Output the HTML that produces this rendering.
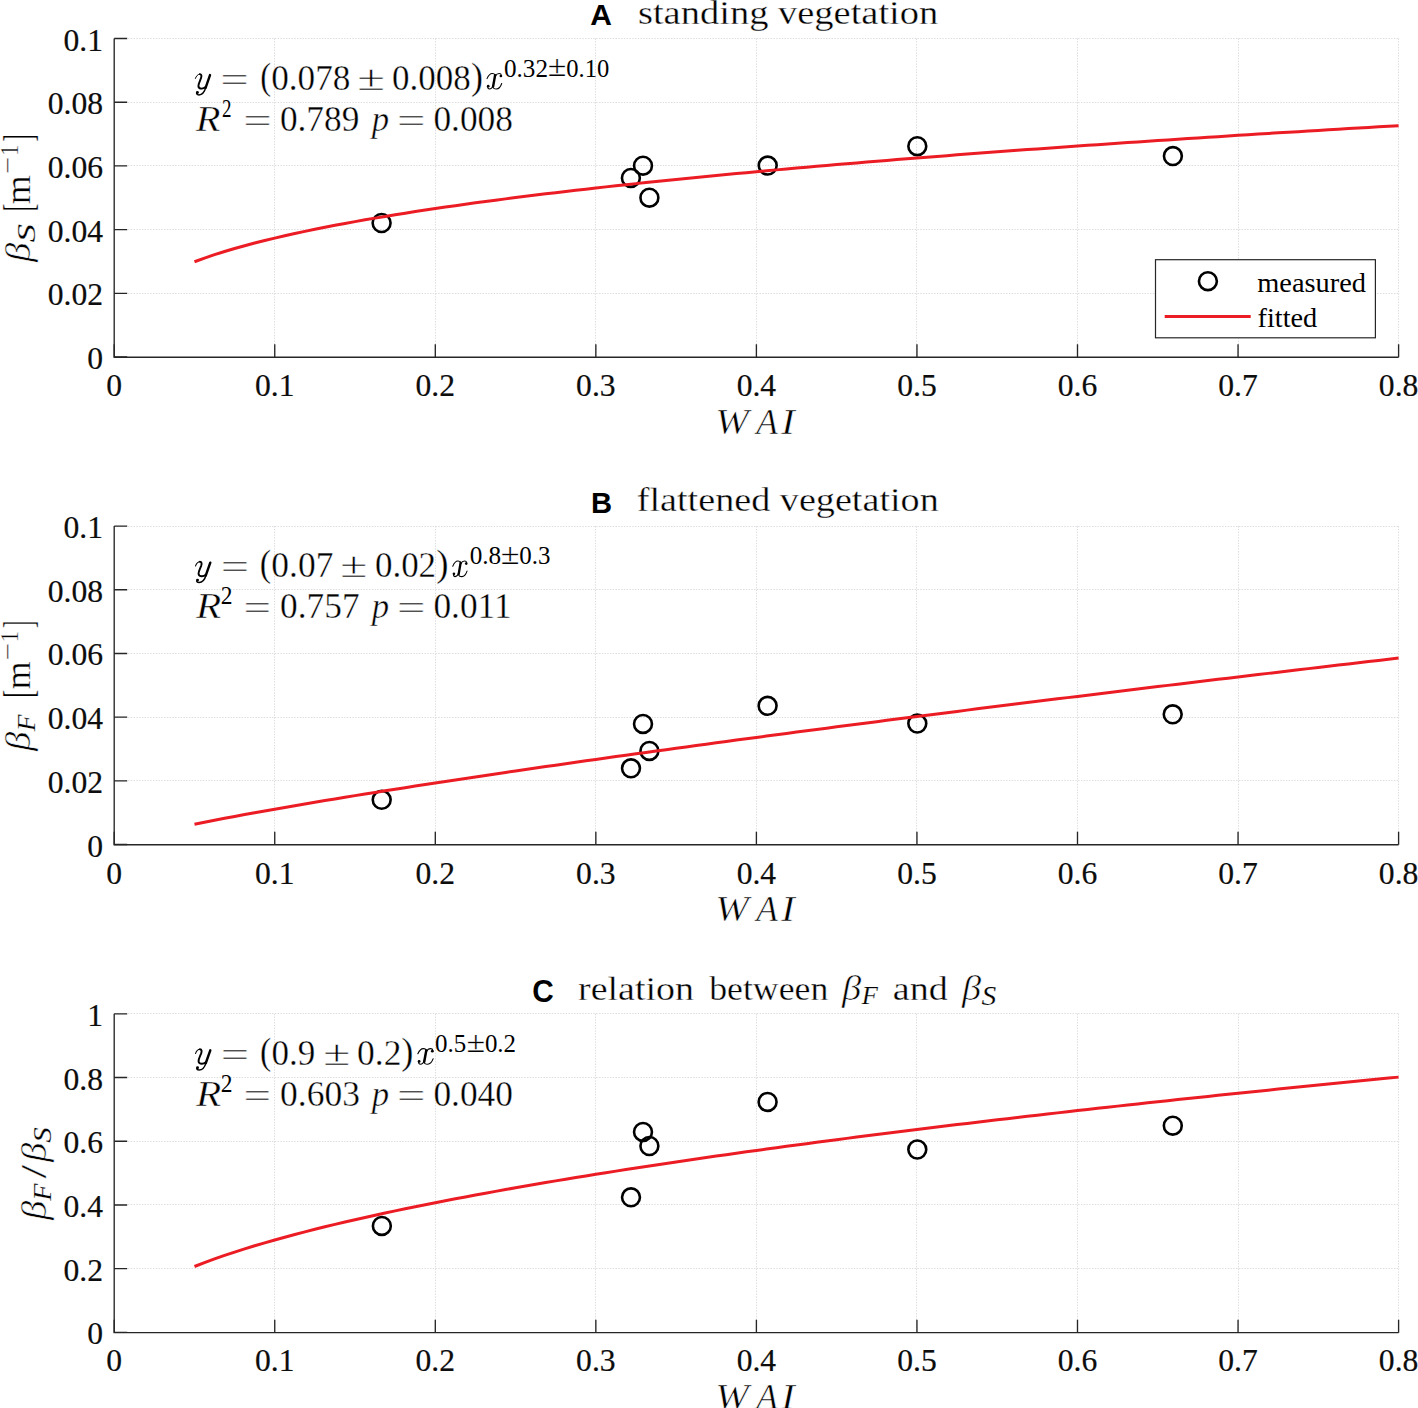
<!DOCTYPE html>
<html><head><meta charset="utf-8"><style>
html,body{margin:0;padding:0;background:#fff;overflow:hidden;}
svg{display:block;}
.m{stroke:#fff;stroke-width:0.45px;}
.w{stroke:#fff;stroke-width:0.55px;}
.s{stroke:#fff;stroke-width:0.2px;}
.c{stroke:#fff;stroke-width:0.35px;}
.t{stroke:#0d0d0d;stroke-width:0.2px;}
</style></head><body>
<svg width="1418" height="1408" viewBox="0 0 1418 1408">
<rect width="1418" height="1408" fill="#fff"/>
<path d="M274.5 38.5V357 M435.5 38.5V357 M595.5 38.5V357 M756.5 38.5V357 M916.5 38.5V357 M1077.5 38.5V357 M1238.5 38.5V357 M1398.5 38.5V357 M114.2 293.5H1398.6 M114.2 229.5H1398.6 M114.2 165.5H1398.6 M114.2 102.5H1398.6 M114.2 38.5H1398.6" stroke="#dcdde0" stroke-width="1" stroke-dasharray="1.4 1.37" fill="none"/>
<path d="M114.2 38.5V357.25H1398.6" stroke="#262626" stroke-width="1.35" fill="none"/>
<path d="M114.2 357.25v-13 M274.75 357.25v-13 M435.3 357.25v-13 M595.85 357.25v-13 M756.4 357.25v-13 M916.95 357.25v-13 M1077.5 357.25v-13 M1238.05 357.25v-13 M1398.6 357.25v-13 M114.2 357h13 M114.2 293.3h13 M114.2 229.6h13 M114.2 165.9h13 M114.2 102.2h13 M114.2 38.5h13" stroke="#262626" stroke-width="1.35" fill="none"/>
<text class="t" x="114.2" y="396" font-size="31.6" text-anchor="middle" font-family='"Liberation Serif", serif' fill="#0d0d0d">0</text>
<text class="t" x="274.75" y="396" font-size="31.6" text-anchor="middle" font-family='"Liberation Serif", serif' fill="#0d0d0d">0.1</text>
<text class="t" x="435.3" y="396" font-size="31.6" text-anchor="middle" font-family='"Liberation Serif", serif' fill="#0d0d0d">0.2</text>
<text class="t" x="595.85" y="396" font-size="31.6" text-anchor="middle" font-family='"Liberation Serif", serif' fill="#0d0d0d">0.3</text>
<text class="t" x="756.4" y="396" font-size="31.6" text-anchor="middle" font-family='"Liberation Serif", serif' fill="#0d0d0d">0.4</text>
<text class="t" x="916.95" y="396" font-size="31.6" text-anchor="middle" font-family='"Liberation Serif", serif' fill="#0d0d0d">0.5</text>
<text class="t" x="1077.5" y="396" font-size="31.6" text-anchor="middle" font-family='"Liberation Serif", serif' fill="#0d0d0d">0.6</text>
<text class="t" x="1238.05" y="396" font-size="31.6" text-anchor="middle" font-family='"Liberation Serif", serif' fill="#0d0d0d">0.7</text>
<text class="t" x="1398.6" y="396" font-size="31.6" text-anchor="middle" font-family='"Liberation Serif", serif' fill="#0d0d0d">0.8</text>
<text class="t" x="103" y="369" font-size="31.6" text-anchor="end" font-family='"Liberation Serif", serif' fill="#0d0d0d">0</text>
<text class="t" x="103" y="305.3" font-size="31.6" text-anchor="end" font-family='"Liberation Serif", serif' fill="#0d0d0d">0.02</text>
<text class="t" x="103" y="241.6" font-size="31.6" text-anchor="end" font-family='"Liberation Serif", serif' fill="#0d0d0d">0.04</text>
<text class="t" x="103" y="177.9" font-size="31.6" text-anchor="end" font-family='"Liberation Serif", serif' fill="#0d0d0d">0.06</text>
<text class="t" x="103" y="114.2" font-size="31.6" text-anchor="end" font-family='"Liberation Serif", serif' fill="#0d0d0d">0.08</text>
<text class="t" x="103" y="50.5" font-size="31.6" text-anchor="end" font-family='"Liberation Serif", serif' fill="#0d0d0d">0.1</text>
<path d="M274.5 526.1V844.5 M435.5 526.1V844.5 M595.5 526.1V844.5 M756.5 526.1V844.5 M916.5 526.1V844.5 M1077.5 526.1V844.5 M1238.5 526.1V844.5 M1398.5 526.1V844.5 M114.2 780.5H1398.6 M114.2 717.5H1398.6 M114.2 653.5H1398.6 M114.2 589.5H1398.6 M114.2 526.5H1398.6" stroke="#dcdde0" stroke-width="1" stroke-dasharray="1.4 1.37" fill="none"/>
<path d="M114.2 526.1V844.75H1398.6" stroke="#262626" stroke-width="1.35" fill="none"/>
<path d="M114.2 844.75v-13 M274.75 844.75v-13 M435.3 844.75v-13 M595.85 844.75v-13 M756.4 844.75v-13 M916.95 844.75v-13 M1077.5 844.75v-13 M1238.05 844.75v-13 M1398.6 844.75v-13 M114.2 844.5h13 M114.2 780.82h13 M114.2 717.14h13 M114.2 653.46h13 M114.2 589.78h13 M114.2 526.1h13" stroke="#262626" stroke-width="1.35" fill="none"/>
<text class="t" x="114.2" y="883.5" font-size="31.6" text-anchor="middle" font-family='"Liberation Serif", serif' fill="#0d0d0d">0</text>
<text class="t" x="274.75" y="883.5" font-size="31.6" text-anchor="middle" font-family='"Liberation Serif", serif' fill="#0d0d0d">0.1</text>
<text class="t" x="435.3" y="883.5" font-size="31.6" text-anchor="middle" font-family='"Liberation Serif", serif' fill="#0d0d0d">0.2</text>
<text class="t" x="595.85" y="883.5" font-size="31.6" text-anchor="middle" font-family='"Liberation Serif", serif' fill="#0d0d0d">0.3</text>
<text class="t" x="756.4" y="883.5" font-size="31.6" text-anchor="middle" font-family='"Liberation Serif", serif' fill="#0d0d0d">0.4</text>
<text class="t" x="916.95" y="883.5" font-size="31.6" text-anchor="middle" font-family='"Liberation Serif", serif' fill="#0d0d0d">0.5</text>
<text class="t" x="1077.5" y="883.5" font-size="31.6" text-anchor="middle" font-family='"Liberation Serif", serif' fill="#0d0d0d">0.6</text>
<text class="t" x="1238.05" y="883.5" font-size="31.6" text-anchor="middle" font-family='"Liberation Serif", serif' fill="#0d0d0d">0.7</text>
<text class="t" x="1398.6" y="883.5" font-size="31.6" text-anchor="middle" font-family='"Liberation Serif", serif' fill="#0d0d0d">0.8</text>
<text class="t" x="103" y="856.5" font-size="31.6" text-anchor="end" font-family='"Liberation Serif", serif' fill="#0d0d0d">0</text>
<text class="t" x="103" y="792.82" font-size="31.6" text-anchor="end" font-family='"Liberation Serif", serif' fill="#0d0d0d">0.02</text>
<text class="t" x="103" y="729.14" font-size="31.6" text-anchor="end" font-family='"Liberation Serif", serif' fill="#0d0d0d">0.04</text>
<text class="t" x="103" y="665.46" font-size="31.6" text-anchor="end" font-family='"Liberation Serif", serif' fill="#0d0d0d">0.06</text>
<text class="t" x="103" y="601.78" font-size="31.6" text-anchor="end" font-family='"Liberation Serif", serif' fill="#0d0d0d">0.08</text>
<text class="t" x="103" y="538.1" font-size="31.6" text-anchor="end" font-family='"Liberation Serif", serif' fill="#0d0d0d">0.1</text>
<path d="M274.5 1013.8V1332.4 M435.5 1013.8V1332.4 M595.5 1013.8V1332.4 M756.5 1013.8V1332.4 M916.5 1013.8V1332.4 M1077.5 1013.8V1332.4 M1238.5 1013.8V1332.4 M1398.5 1013.8V1332.4 M114.2 1268.5H1398.6 M114.2 1204.5H1398.6 M114.2 1141.5H1398.6 M114.2 1077.5H1398.6 M114.2 1013.5H1398.6" stroke="#dcdde0" stroke-width="1" stroke-dasharray="1.4 1.37" fill="none"/>
<path d="M114.2 1013.8V1332.65H1398.6" stroke="#262626" stroke-width="1.35" fill="none"/>
<path d="M114.2 1332.65v-13 M274.75 1332.65v-13 M435.3 1332.65v-13 M595.85 1332.65v-13 M756.4 1332.65v-13 M916.95 1332.65v-13 M1077.5 1332.65v-13 M1238.05 1332.65v-13 M1398.6 1332.65v-13 M114.2 1332.4h13 M114.2 1268.68h13 M114.2 1204.96h13 M114.2 1141.24h13 M114.2 1077.52h13 M114.2 1013.8h13" stroke="#262626" stroke-width="1.35" fill="none"/>
<text class="t" x="114.2" y="1371.4" font-size="31.6" text-anchor="middle" font-family='"Liberation Serif", serif' fill="#0d0d0d">0</text>
<text class="t" x="274.75" y="1371.4" font-size="31.6" text-anchor="middle" font-family='"Liberation Serif", serif' fill="#0d0d0d">0.1</text>
<text class="t" x="435.3" y="1371.4" font-size="31.6" text-anchor="middle" font-family='"Liberation Serif", serif' fill="#0d0d0d">0.2</text>
<text class="t" x="595.85" y="1371.4" font-size="31.6" text-anchor="middle" font-family='"Liberation Serif", serif' fill="#0d0d0d">0.3</text>
<text class="t" x="756.4" y="1371.4" font-size="31.6" text-anchor="middle" font-family='"Liberation Serif", serif' fill="#0d0d0d">0.4</text>
<text class="t" x="916.95" y="1371.4" font-size="31.6" text-anchor="middle" font-family='"Liberation Serif", serif' fill="#0d0d0d">0.5</text>
<text class="t" x="1077.5" y="1371.4" font-size="31.6" text-anchor="middle" font-family='"Liberation Serif", serif' fill="#0d0d0d">0.6</text>
<text class="t" x="1238.05" y="1371.4" font-size="31.6" text-anchor="middle" font-family='"Liberation Serif", serif' fill="#0d0d0d">0.7</text>
<text class="t" x="1398.6" y="1371.4" font-size="31.6" text-anchor="middle" font-family='"Liberation Serif", serif' fill="#0d0d0d">0.8</text>
<text class="t" x="103" y="1344.4" font-size="31.6" text-anchor="end" font-family='"Liberation Serif", serif' fill="#0d0d0d">0</text>
<text class="t" x="103" y="1280.68" font-size="31.6" text-anchor="end" font-family='"Liberation Serif", serif' fill="#0d0d0d">0.2</text>
<text class="t" x="103" y="1216.96" font-size="31.6" text-anchor="end" font-family='"Liberation Serif", serif' fill="#0d0d0d">0.4</text>
<text class="t" x="103" y="1153.24" font-size="31.6" text-anchor="end" font-family='"Liberation Serif", serif' fill="#0d0d0d">0.6</text>
<text class="t" x="103" y="1089.52" font-size="31.6" text-anchor="end" font-family='"Liberation Serif", serif' fill="#0d0d0d">0.8</text>
<text class="t" x="103" y="1025.8" font-size="31.6" text-anchor="end" font-family='"Liberation Serif", serif' fill="#0d0d0d">1</text>
<circle cx="381.6" cy="223" r="8.95" stroke="#000" stroke-width="2.6" fill="none"/>
<circle cx="630.9" cy="177.9" r="8.95" stroke="#000" stroke-width="2.6" fill="none"/>
<circle cx="643" cy="165.7" r="8.95" stroke="#000" stroke-width="2.6" fill="none"/>
<circle cx="649.4" cy="197.7" r="8.95" stroke="#000" stroke-width="2.6" fill="none"/>
<circle cx="767.7" cy="165.6" r="8.95" stroke="#000" stroke-width="2.6" fill="none"/>
<circle cx="917.3" cy="146.2" r="8.95" stroke="#000" stroke-width="2.6" fill="none"/>
<circle cx="1172.9" cy="156.1" r="8.95" stroke="#000" stroke-width="2.6" fill="none"/>
<polyline points="194.47,261.75 204.51,258.09 214.54,254.7 224.58,251.53 234.61,248.55 244.65,245.74 254.68,243.07 264.72,240.52 274.75,238.09 284.78,235.76 294.82,233.53 304.85,231.37 314.89,229.29 324.92,227.28 334.96,225.34 344.99,223.45 355.02,221.62 365.06,219.84 375.09,218.11 385.13,216.42 395.16,214.77 405.2,213.17 415.23,211.6 425.27,210.07 435.3,208.57 445.33,207.1 455.37,205.66 465.4,204.25 475.44,202.86 485.47,201.51 495.51,200.17 505.54,198.87 515.57,197.58 525.61,196.31 535.64,195.07 545.68,193.85 555.71,192.64 565.75,191.46 575.78,190.29 585.82,189.14 595.85,188 605.88,186.88 615.92,185.78 625.95,184.69 635.99,183.62 646.02,182.56 656.06,181.51 666.09,180.48 676.12,179.46 686.16,178.45 696.19,177.45 706.23,176.47 716.26,175.49 726.3,174.53 736.33,173.58 746.37,172.64 756.4,171.71 766.43,170.78 776.47,169.87 786.5,168.97 796.54,168.08 806.57,167.19 816.61,166.31 826.64,165.45 836.67,164.59 846.71,163.74 856.74,162.89 866.78,162.06 876.81,161.23 886.85,160.41 896.88,159.6 906.92,158.79 916.95,157.99 926.98,157.2 937.02,156.41 947.05,155.63 957.09,154.86 967.12,154.09 977.16,153.33 987.19,152.58 997.23,151.83 1007.26,151.08 1017.29,150.35 1027.33,149.61 1037.36,148.89 1047.4,148.17 1057.43,147.45 1067.47,146.74 1077.5,146.03 1087.53,145.33 1097.57,144.64 1107.6,143.95 1117.64,143.26 1127.67,142.58 1137.71,141.9 1147.74,141.23 1157.77,140.56 1167.81,139.9 1177.84,139.24 1187.88,138.58 1197.91,137.93 1207.95,137.28 1217.98,136.64 1228.02,136 1238.05,135.37 1248.08,134.74 1258.12,134.11 1268.15,133.48 1278.19,132.86 1288.22,132.25 1298.26,131.63 1308.29,131.02 1318.32,130.42 1328.36,129.82 1338.39,129.22 1348.43,128.62 1358.46,128.03 1368.5,127.44 1378.53,126.85 1388.57,126.27 1398.6,125.69" stroke="#EC1C24" stroke-width="3" fill="none" stroke-linejoin="round"/>
<circle cx="381.7" cy="799.8" r="8.95" stroke="#000" stroke-width="2.6" fill="none"/>
<circle cx="631" cy="768.3" r="8.95" stroke="#000" stroke-width="2.6" fill="none"/>
<circle cx="643" cy="723.9" r="8.95" stroke="#000" stroke-width="2.6" fill="none"/>
<circle cx="649.4" cy="750.9" r="8.95" stroke="#000" stroke-width="2.6" fill="none"/>
<circle cx="767.6" cy="705.8" r="8.95" stroke="#000" stroke-width="2.6" fill="none"/>
<circle cx="917.3" cy="723.6" r="8.95" stroke="#000" stroke-width="2.6" fill="none"/>
<circle cx="1172.7" cy="714.3" r="8.95" stroke="#000" stroke-width="2.6" fill="none"/>
<polyline points="194.47,824.21 204.51,822.21 214.54,820.25 224.58,818.32 234.61,816.44 244.65,814.58 254.68,812.75 264.72,810.95 274.75,809.18 284.78,807.42 294.82,805.69 304.85,803.97 314.89,802.27 324.92,800.59 334.96,798.93 344.99,797.28 355.02,795.64 365.06,794.02 375.09,792.41 385.13,790.81 395.16,789.23 405.2,787.65 415.23,786.09 425.27,784.54 435.3,783 445.33,781.46 455.37,779.94 465.4,778.43 475.44,776.92 485.47,775.42 495.51,773.93 505.54,772.45 515.57,770.98 525.61,769.51 535.64,768.05 545.68,766.6 555.71,765.15 565.75,763.71 575.78,762.28 585.82,760.85 595.85,759.43 605.88,758.02 615.92,756.61 625.95,755.2 635.99,753.81 646.02,752.41 656.06,751.03 666.09,749.64 676.12,748.27 686.16,746.89 696.19,745.53 706.23,744.16 716.26,742.81 726.3,741.45 736.33,740.1 746.37,738.76 756.4,737.42 766.43,736.08 776.47,734.75 786.5,733.42 796.54,732.1 806.57,730.78 816.61,729.46 826.64,728.15 836.67,726.84 846.71,725.53 856.74,724.23 866.78,722.93 876.81,721.64 886.85,720.34 896.88,719.06 906.92,717.77 916.95,716.49 926.98,715.21 937.02,713.94 947.05,712.66 957.09,711.39 967.12,710.13 977.16,708.86 987.19,707.6 997.23,706.35 1007.26,705.09 1017.29,703.84 1027.33,702.59 1037.36,701.35 1047.4,700.1 1057.43,698.86 1067.47,697.62 1077.5,696.39 1087.53,695.15 1097.57,693.92 1107.6,692.7 1117.64,691.47 1127.67,690.25 1137.71,689.03 1147.74,687.81 1157.77,686.59 1167.81,685.38 1177.84,684.17 1187.88,682.96 1197.91,681.75 1207.95,680.55 1217.98,679.35 1228.02,678.15 1238.05,676.95 1248.08,675.75 1258.12,674.56 1268.15,673.37 1278.19,672.18 1288.22,670.99 1298.26,669.8 1308.29,668.62 1318.32,667.44 1328.36,666.26 1338.39,665.08 1348.43,663.91 1358.46,662.73 1368.5,661.56 1378.53,660.39 1388.57,659.22 1398.6,658.06" stroke="#EC1C24" stroke-width="3" fill="none" stroke-linejoin="round"/>
<circle cx="381.85" cy="1225.9" r="8.95" stroke="#000" stroke-width="2.6" fill="none"/>
<circle cx="631" cy="1197.3" r="8.95" stroke="#000" stroke-width="2.6" fill="none"/>
<circle cx="643" cy="1131.9" r="8.95" stroke="#000" stroke-width="2.6" fill="none"/>
<circle cx="649.4" cy="1146" r="8.95" stroke="#000" stroke-width="2.6" fill="none"/>
<circle cx="767.6" cy="1101.9" r="8.95" stroke="#000" stroke-width="2.6" fill="none"/>
<circle cx="917.3" cy="1149.5" r="8.95" stroke="#000" stroke-width="2.6" fill="none"/>
<circle cx="1172.8" cy="1125.7" r="8.95" stroke="#000" stroke-width="2.6" fill="none"/>
<polyline points="194.47,1266.51 204.51,1262.61 214.54,1258.93 224.58,1255.43 234.61,1252.08 244.65,1248.88 254.68,1245.8 264.72,1242.83 274.75,1239.96 284.78,1237.19 294.82,1234.49 304.85,1231.87 314.89,1229.32 324.92,1226.83 334.96,1224.41 344.99,1222.03 355.02,1219.72 365.06,1217.45 375.09,1215.22 385.13,1213.04 395.16,1210.9 405.2,1208.8 415.23,1206.74 425.27,1204.71 435.3,1202.71 445.33,1200.75 455.37,1198.82 465.4,1196.91 475.44,1195.03 485.47,1193.18 495.51,1191.36 505.54,1189.56 515.57,1187.78 525.61,1186.02 535.64,1184.29 545.68,1182.58 555.71,1180.89 565.75,1179.21 575.78,1177.56 585.82,1175.92 595.85,1174.31 605.88,1172.71 615.92,1171.12 625.95,1169.55 635.99,1168 646.02,1166.47 656.06,1164.94 666.09,1163.44 676.12,1161.94 686.16,1160.46 696.19,1158.99 706.23,1157.54 716.26,1156.1 726.3,1154.67 736.33,1153.25 746.37,1151.85 756.4,1150.45 766.43,1149.07 776.47,1147.7 786.5,1146.33 796.54,1144.98 806.57,1143.64 816.61,1142.31 826.64,1140.99 836.67,1139.68 846.71,1138.37 856.74,1137.08 866.78,1135.79 876.81,1134.52 886.85,1133.25 896.88,1131.99 906.92,1130.74 916.95,1129.5 926.98,1128.26 937.02,1127.04 947.05,1125.82 957.09,1124.6 967.12,1123.4 977.16,1122.2 987.19,1121.01 997.23,1119.83 1007.26,1118.65 1017.29,1117.48 1027.33,1116.32 1037.36,1115.16 1047.4,1114.01 1057.43,1112.87 1067.47,1111.73 1077.5,1110.6 1087.53,1109.47 1097.57,1108.35 1107.6,1107.24 1117.64,1106.13 1127.67,1105.03 1137.71,1103.93 1147.74,1102.84 1157.77,1101.75 1167.81,1100.67 1177.84,1099.6 1187.88,1098.53 1197.91,1097.46 1207.95,1096.4 1217.98,1095.35 1228.02,1094.3 1238.05,1093.25 1248.08,1092.21 1258.12,1091.17 1268.15,1090.14 1278.19,1089.11 1288.22,1088.09 1298.26,1087.07 1308.29,1086.06 1318.32,1085.05 1328.36,1084.05 1338.39,1083.05 1348.43,1082.05 1358.46,1081.06 1368.5,1080.07 1378.53,1079.09 1388.57,1078.11 1398.6,1077.13" stroke="#EC1C24" stroke-width="3" fill="none" stroke-linejoin="round"/>
<rect x="1155.5" y="259.7" width="219.9" height="78.1" fill="#fff" stroke="#262626" stroke-width="1.2"/>
<circle cx="1207.9" cy="281.2" r="8.95" stroke="#000" stroke-width="2.6" fill="none"/>
<path d="M1164.7 316.4H1250.7" stroke="#EC1C24" stroke-width="3"/>
<text x="1257.23" y="292.1" font-size="28.3" textLength="108.79" lengthAdjust="spacingAndGlyphs" font-family='"Liberation Serif", serif' fill="#000">measured</text>
<text x="1257.55" y="327.3" font-size="28.3" textLength="59.64" lengthAdjust="spacingAndGlyphs" font-family='"Liberation Serif", serif' fill="#000">fitted</text>
<text x="590.15" y="24.5" font-size="30.2" textLength="21.67" lengthAdjust="spacingAndGlyphs" font-family='"Liberation Sans", sans-serif' font-weight="bold" fill="#000">A</text>
<text x="591.1" y="512.8" font-size="29.8" textLength="21.07" lengthAdjust="spacingAndGlyphs" font-family='"Liberation Sans", sans-serif' font-weight="bold" fill="#000">B</text>
<text x="532.31" y="1002" font-size="30.5" textLength="21.5" lengthAdjust="spacingAndGlyphs" font-family='"Liberation Sans", sans-serif' font-weight="bold" fill="#000">C</text>
<text class="c" x="637.96" y="23.8" font-size="34.6" textLength="300.36" lengthAdjust="spacingAndGlyphs" font-family='"Liberation Serif", serif' fill="#000">standing vegetation</text>
<text class="c" x="636.75" y="510.9" font-size="34.6" textLength="302.04" lengthAdjust="spacingAndGlyphs" font-family='"Liberation Serif", serif' fill="#000">flattened vegetation</text>
<text class="c" x="578.14" y="999.9" font-size="34.6" textLength="115.79" lengthAdjust="spacingAndGlyphs" font-family='"Liberation Serif", serif' fill="#000">relation</text>
<text class="c" x="709.2" y="999.9" font-size="34.6" textLength="119.09" lengthAdjust="spacingAndGlyphs" font-family='"Liberation Serif", serif' fill="#000">between</text>
<text class="w" x="841.98" y="999.9" font-size="35" textLength="19.24" lengthAdjust="spacingAndGlyphs" font-family='"Liberation Serif", serif' font-style="italic" fill="#000">β</text>
<text class="s" x="861.83" y="1004.3" font-size="25.2" textLength="16.13" lengthAdjust="spacingAndGlyphs" font-family='"Liberation Serif", serif' font-style="italic" fill="#000">F</text>
<text class="c" x="892.77" y="999.9" font-size="34.6" textLength="54.97" lengthAdjust="spacingAndGlyphs" font-family='"Liberation Serif", serif' fill="#000">and</text>
<text class="w" x="961.98" y="999.9" font-size="35" textLength="19.14" lengthAdjust="spacingAndGlyphs" font-family='"Liberation Serif", serif' font-style="italic" fill="#000">β</text>
<text class="s" x="981.41" y="1004.8" font-size="26.5" textLength="14.74" lengthAdjust="spacingAndGlyphs" font-family='"Liberation Serif", serif' font-style="italic" fill="#000">S</text>
<text class="w" x="715.18" y="433.6" font-size="35.4" textLength="33.52" lengthAdjust="spacingAndGlyphs" font-family='"Liberation Serif", serif' font-style="italic" fill="#000">W</text>
<text class="w" x="756.15" y="433.6" font-size="35.4" textLength="21.61" lengthAdjust="spacingAndGlyphs" font-family='"Liberation Serif", serif' font-style="italic" fill="#000">A</text>
<text class="w" x="781.01" y="433.6" font-size="35.4" textLength="13.94" lengthAdjust="spacingAndGlyphs" font-family='"Liberation Serif", serif' font-style="italic" fill="#000">I</text>
<text class="w" x="715.18" y="921.2" font-size="35.4" textLength="33.52" lengthAdjust="spacingAndGlyphs" font-family='"Liberation Serif", serif' font-style="italic" fill="#000">W</text>
<text class="w" x="756.15" y="921.2" font-size="35.4" textLength="21.61" lengthAdjust="spacingAndGlyphs" font-family='"Liberation Serif", serif' font-style="italic" fill="#000">A</text>
<text class="w" x="781.01" y="921.2" font-size="35.4" textLength="13.94" lengthAdjust="spacingAndGlyphs" font-family='"Liberation Serif", serif' font-style="italic" fill="#000">I</text>
<text class="w" x="715.18" y="1408.8" font-size="35.4" textLength="33.52" lengthAdjust="spacingAndGlyphs" font-family='"Liberation Serif", serif' font-style="italic" fill="#000">W</text>
<text class="w" x="756.15" y="1408.8" font-size="35.4" textLength="21.61" lengthAdjust="spacingAndGlyphs" font-family='"Liberation Serif", serif' font-style="italic" fill="#000">A</text>
<text class="w" x="781.01" y="1408.8" font-size="35.4" textLength="13.94" lengthAdjust="spacingAndGlyphs" font-family='"Liberation Serif", serif' font-style="italic" fill="#000">I</text>
<g transform="translate(194.9 89.6) scale(1.000 1)" fill="none" stroke="#000" stroke-linecap="round"><path d="M0.5 -11.2C1.3 -13.5 3.0 -15.5 4.9 -15.5" stroke-width="1.0"/><path d="M4.9 -15.5C6.6 -15.5 6.9 -13.7 6.1 -11.4C4.8 -8.1 3.4 -5.6 3.5 -3.5C3.6 -1.8 5.0 -1.0 6.8 -1.0C8.3 -1.0 9.6 -1.6 10.4 -2.4" stroke-width="1.9"/><path d="M15.1 -14.5L10.7 -1.8" stroke-width="2.4"/><path d="M10.9 -2.2C9.8 1.8 7.6 5.3 4.0 5.3C2.7 5.3 1.8 4.7 1.7 3.9" stroke-width="1.5"/><circle cx="2.5" cy="2.9" r="1.45" fill="#000" stroke="none"/></g>
<text class="c" x="220.37" y="91.6" font-size="35.4" textLength="28.5" lengthAdjust="spacingAndGlyphs" font-family='"Liberation Serif", serif' fill="#000">=</text>
<text class="c" x="260.14" y="88.7" font-size="38.5" textLength="10.84" lengthAdjust="spacingAndGlyphs" font-family='"Liberation Serif", serif' fill="#000">(</text>
<text class="c" x="271.19" y="89.6" font-size="35.4" textLength="79.22" lengthAdjust="spacingAndGlyphs" font-family='"Liberation Serif", serif' fill="#000">0.078</text>
<text class="c" x="357.38" y="89.6" font-size="35.4" textLength="27.74" lengthAdjust="spacingAndGlyphs" font-family='"Liberation Serif", serif' fill="#000">±</text>
<text class="c" x="392.1" y="89.6" font-size="35.4" textLength="78.7" lengthAdjust="spacingAndGlyphs" font-family='"Liberation Serif", serif' fill="#000">0.008</text>
<text class="c" x="471.12" y="88.7" font-size="38.5" textLength="12.04" lengthAdjust="spacingAndGlyphs" font-family='"Liberation Serif", serif' fill="#000">)</text>
<g transform="translate(485.8 89.6) scale(1.000 1)" fill="none" stroke="#000" stroke-linecap="round"><path d="M1.2 -11.0C2.5 -14.0 4.5 -16.2 6.4 -16.2C8.0 -16.2 9.2 -15.4 9.2 -14.2" stroke-width="1.05"/><path d="M9.3 -14.4L7.3 -3.1" stroke-width="2.4"/><path d="M7.3 -3.0C7.0 -1.5 8.5 -0.6 10.6 -0.6C13.0 -0.6 15.0 -3.5 15.9 -6.1" stroke-width="1.05"/><path d="M9.7 -13.6C10.4 -15.2 11.8 -16.2 13.4 -16.2C14.6 -16.2 15.4 -15.6 15.5 -14.4" stroke-width="1.05"/><path d="M7.1 -4.0C6.6 -2.0 5.0 -0.6 3.6 -0.6C2.6 -0.6 1.9 -1.3 1.9 -2.6" stroke-width="1.05"/><circle cx="15.1" cy="-13.6" r="1.35" fill="#000" stroke="none"/><circle cx="2.4" cy="-3.4" r="1.35" fill="#000" stroke="none"/></g>
<text x="503.99" y="76.5" font-size="24.9" textLength="43.99" lengthAdjust="spacingAndGlyphs" font-family='"Liberation Serif", serif' fill="#000">0.32</text>
<text class="s" x="547.74" y="76.2" font-size="28.7" textLength="18.65" lengthAdjust="spacingAndGlyphs" font-family='"Liberation Serif", serif' fill="#000">±</text>
<text x="566.32" y="76.5" font-size="24.9" textLength="42.96" lengthAdjust="spacingAndGlyphs" font-family='"Liberation Serif", serif' fill="#000">0.10</text>
<text class="m" x="195.8" y="130.6" font-size="35.4" textLength="24.74" lengthAdjust="spacingAndGlyphs" font-family='"Liberation Serif", serif' font-style="italic" fill="#000">R</text>
<text x="222.05" y="116.7" font-size="24.8" textLength="9.5" lengthAdjust="spacingAndGlyphs" font-family='"Liberation Serif", serif' fill="#000">2</text>
<text class="c" x="243.17" y="132.6" font-size="35.4" textLength="28.5" lengthAdjust="spacingAndGlyphs" font-family='"Liberation Serif", serif' fill="#000">=</text>
<text class="c" x="279.89" y="130.6" font-size="35.4" textLength="79.42" lengthAdjust="spacingAndGlyphs" font-family='"Liberation Serif", serif' fill="#000">0.789</text>
<text class="m" x="371.78" y="130.6" font-size="35.4" textLength="17.36" lengthAdjust="spacingAndGlyphs" font-family='"Liberation Serif", serif' font-style="italic" fill="#000">p</text>
<text class="c" x="396.97" y="132.6" font-size="35.4" textLength="28.5" lengthAdjust="spacingAndGlyphs" font-family='"Liberation Serif", serif' fill="#000">=</text>
<text class="c" x="433.39" y="130.6" font-size="35.4" textLength="79.53" lengthAdjust="spacingAndGlyphs" font-family='"Liberation Serif", serif' fill="#000">0.008</text>
<g transform="translate(195 577.2) scale(1.013 1)" fill="none" stroke="#000" stroke-linecap="round"><path d="M0.5 -11.2C1.3 -13.5 3.0 -15.5 4.9 -15.5" stroke-width="1.0"/><path d="M4.9 -15.5C6.6 -15.5 6.9 -13.7 6.1 -11.4C4.8 -8.1 3.4 -5.6 3.5 -3.5C3.6 -1.8 5.0 -1.0 6.8 -1.0C8.3 -1.0 9.6 -1.6 10.4 -2.4" stroke-width="1.9"/><path d="M15.1 -14.5L10.7 -1.8" stroke-width="2.4"/><path d="M10.9 -2.2C9.8 1.8 7.6 5.3 4.0 5.3C2.7 5.3 1.8 4.7 1.7 3.9" stroke-width="1.5"/><circle cx="2.5" cy="2.9" r="1.45" fill="#000" stroke="none"/></g>
<text class="c" x="220.68" y="579.2" font-size="35.4" textLength="28.38" lengthAdjust="spacingAndGlyphs" font-family='"Liberation Serif", serif' fill="#000">=</text>
<text class="c" x="259.86" y="576.3" font-size="38.5" textLength="11.36" lengthAdjust="spacingAndGlyphs" font-family='"Liberation Serif", serif' fill="#000">(</text>
<text class="c" x="271.38" y="577.2" font-size="35.4" textLength="62.08" lengthAdjust="spacingAndGlyphs" font-family='"Liberation Serif", serif' fill="#000">0.07</text>
<text class="c" x="340.23" y="577.2" font-size="35.4" textLength="27.03" lengthAdjust="spacingAndGlyphs" font-family='"Liberation Serif", serif' fill="#000">±</text>
<text class="c" x="374.9" y="577.2" font-size="35.4" textLength="61.22" lengthAdjust="spacingAndGlyphs" font-family='"Liberation Serif", serif' fill="#000">0.02</text>
<text class="c" x="436.19" y="576.3" font-size="38.5" textLength="12.3" lengthAdjust="spacingAndGlyphs" font-family='"Liberation Serif", serif' fill="#000">)</text>
<g transform="translate(451.6 577.2) scale(0.970 1)" fill="none" stroke="#000" stroke-linecap="round"><path d="M1.2 -11.0C2.5 -14.0 4.5 -16.2 6.4 -16.2C8.0 -16.2 9.2 -15.4 9.2 -14.2" stroke-width="1.05"/><path d="M9.3 -14.4L7.3 -3.1" stroke-width="2.4"/><path d="M7.3 -3.0C7.0 -1.5 8.5 -0.6 10.6 -0.6C13.0 -0.6 15.0 -3.5 15.9 -6.1" stroke-width="1.05"/><path d="M9.7 -13.6C10.4 -15.2 11.8 -16.2 13.4 -16.2C14.6 -16.2 15.4 -15.6 15.5 -14.4" stroke-width="1.05"/><path d="M7.1 -4.0C6.6 -2.0 5.0 -0.6 3.6 -0.6C2.6 -0.6 1.9 -1.3 1.9 -2.6" stroke-width="1.05"/><circle cx="15.1" cy="-13.6" r="1.35" fill="#000" stroke="none"/><circle cx="2.4" cy="-3.4" r="1.35" fill="#000" stroke="none"/></g>
<text x="469.69" y="564.4" font-size="24.9" textLength="31.52" lengthAdjust="spacingAndGlyphs" font-family='"Liberation Serif", serif' fill="#000">0.8</text>
<text class="s" x="500.73" y="564.1" font-size="28.7" textLength="18.77" lengthAdjust="spacingAndGlyphs" font-family='"Liberation Serif", serif' fill="#000">±</text>
<text x="519.2" y="564.4" font-size="24.9" textLength="31.2" lengthAdjust="spacingAndGlyphs" font-family='"Liberation Serif", serif' fill="#000">0.3</text>
<text class="m" x="195.91" y="618.2" font-size="35.4" textLength="25.25" lengthAdjust="spacingAndGlyphs" font-family='"Liberation Serif", serif' font-style="italic" fill="#000">R</text>
<text x="220.74" y="604.3" font-size="24.8" textLength="11.75" lengthAdjust="spacingAndGlyphs" font-family='"Liberation Serif", serif' fill="#000">2</text>
<text class="c" x="243.56" y="620.2" font-size="35.4" textLength="27.53" lengthAdjust="spacingAndGlyphs" font-family='"Liberation Serif", serif' fill="#000">=</text>
<text class="c" x="280.09" y="618.2" font-size="35.4" textLength="79.47" lengthAdjust="spacingAndGlyphs" font-family='"Liberation Serif", serif' fill="#000">0.757</text>
<text class="m" x="371.78" y="618.2" font-size="35.4" textLength="17.36" lengthAdjust="spacingAndGlyphs" font-family='"Liberation Serif", serif' font-style="italic" fill="#000">p</text>
<text class="c" x="396.97" y="620.2" font-size="35.4" textLength="28.5" lengthAdjust="spacingAndGlyphs" font-family='"Liberation Serif", serif' fill="#000">=</text>
<text class="c" x="433.39" y="618.2" font-size="35.4" textLength="78.26" lengthAdjust="spacingAndGlyphs" font-family='"Liberation Serif", serif' fill="#000">0.011</text>
<g transform="translate(195 1064.8) scale(1.013 1)" fill="none" stroke="#000" stroke-linecap="round"><path d="M0.5 -11.2C1.3 -13.5 3.0 -15.5 4.9 -15.5" stroke-width="1.0"/><path d="M4.9 -15.5C6.6 -15.5 6.9 -13.7 6.1 -11.4C4.8 -8.1 3.4 -5.6 3.5 -3.5C3.6 -1.8 5.0 -1.0 6.8 -1.0C8.3 -1.0 9.6 -1.6 10.4 -2.4" stroke-width="1.9"/><path d="M15.1 -14.5L10.7 -1.8" stroke-width="2.4"/><path d="M10.9 -2.2C9.8 1.8 7.6 5.3 4.0 5.3C2.7 5.3 1.8 4.7 1.7 3.9" stroke-width="1.5"/><circle cx="2.5" cy="2.9" r="1.45" fill="#000" stroke="none"/></g>
<text class="c" x="220.68" y="1066.8" font-size="35.4" textLength="28.38" lengthAdjust="spacingAndGlyphs" font-family='"Liberation Serif", serif' fill="#000">=</text>
<text class="c" x="259.88" y="1063.9" font-size="38.5" textLength="11.23" lengthAdjust="spacingAndGlyphs" font-family='"Liberation Serif", serif' fill="#000">(</text>
<text class="c" x="271.4" y="1064.8" font-size="35.4" textLength="43.8" lengthAdjust="spacingAndGlyphs" font-family='"Liberation Serif", serif' fill="#000">0.9</text>
<text class="c" x="323.23" y="1064.8" font-size="35.4" textLength="27.03" lengthAdjust="spacingAndGlyphs" font-family='"Liberation Serif", serif' fill="#000">±</text>
<text class="c" x="357.08" y="1064.8" font-size="35.4" textLength="44.37" lengthAdjust="spacingAndGlyphs" font-family='"Liberation Serif", serif' fill="#000">0.2</text>
<text class="c" x="401.2" y="1063.9" font-size="38.5" textLength="12.17" lengthAdjust="spacingAndGlyphs" font-family='"Liberation Serif", serif' fill="#000">)</text>
<g transform="translate(416.6 1064.8) scale(1.043 1)" fill="none" stroke="#000" stroke-linecap="round"><path d="M1.2 -11.0C2.5 -14.0 4.5 -16.2 6.4 -16.2C8.0 -16.2 9.2 -15.4 9.2 -14.2" stroke-width="1.05"/><path d="M9.3 -14.4L7.3 -3.1" stroke-width="2.4"/><path d="M7.3 -3.0C7.0 -1.5 8.5 -0.6 10.6 -0.6C13.0 -0.6 15.0 -3.5 15.9 -6.1" stroke-width="1.05"/><path d="M9.7 -13.6C10.4 -15.2 11.8 -16.2 13.4 -16.2C14.6 -16.2 15.4 -15.6 15.5 -14.4" stroke-width="1.05"/><path d="M7.1 -4.0C6.6 -2.0 5.0 -0.6 3.6 -0.6C2.6 -0.6 1.9 -1.3 1.9 -2.6" stroke-width="1.05"/><circle cx="15.1" cy="-13.6" r="1.35" fill="#000" stroke="none"/><circle cx="2.4" cy="-3.4" r="1.35" fill="#000" stroke="none"/></g>
<text x="435" y="1052.4" font-size="24.9" textLength="31.2" lengthAdjust="spacingAndGlyphs" font-family='"Liberation Serif", serif' fill="#000">0.5</text>
<text class="s" x="466.44" y="1052.1" font-size="28.7" textLength="18.65" lengthAdjust="spacingAndGlyphs" font-family='"Liberation Serif", serif' fill="#000">±</text>
<text x="484.9" y="1052.4" font-size="24.9" textLength="31.17" lengthAdjust="spacingAndGlyphs" font-family='"Liberation Serif", serif' fill="#000">0.2</text>
<text class="m" x="195.91" y="1105.8" font-size="35.4" textLength="25.25" lengthAdjust="spacingAndGlyphs" font-family='"Liberation Serif", serif' font-style="italic" fill="#000">R</text>
<text x="220.74" y="1091.9" font-size="24.8" textLength="11.75" lengthAdjust="spacingAndGlyphs" font-family='"Liberation Serif", serif' fill="#000">2</text>
<text class="c" x="243.56" y="1107.8" font-size="35.4" textLength="27.53" lengthAdjust="spacingAndGlyphs" font-family='"Liberation Serif", serif' fill="#000">=</text>
<text class="c" x="280.08" y="1105.8" font-size="35.4" textLength="79.84" lengthAdjust="spacingAndGlyphs" font-family='"Liberation Serif", serif' fill="#000">0.603</text>
<text class="m" x="371.78" y="1105.8" font-size="35.4" textLength="17.36" lengthAdjust="spacingAndGlyphs" font-family='"Liberation Serif", serif' font-style="italic" fill="#000">p</text>
<text class="c" x="396.97" y="1107.8" font-size="35.4" textLength="28.5" lengthAdjust="spacingAndGlyphs" font-family='"Liberation Serif", serif' fill="#000">=</text>
<text class="c" x="433.39" y="1105.8" font-size="35.4" textLength="79.53" lengthAdjust="spacingAndGlyphs" font-family='"Liberation Serif", serif' fill="#000">0.040</text>
<g transform="translate(30.1 262.6) rotate(-90)"><text class="w" x="0.59" y="0" font-size="35.4" textLength="19.43" lengthAdjust="spacingAndGlyphs" font-family='"Liberation Serif", serif' font-style="italic" fill="#000">β</text><text class="s" x="20.03" y="4.6" font-size="24.5" textLength="18.63" lengthAdjust="spacingAndGlyphs" font-family='"Liberation Serif", serif' font-style="italic" fill="#000">S</text><text class="c" x="51.06" y="2.3" font-size="41.7" textLength="7.72" lengthAdjust="spacingAndGlyphs" font-family='"Liberation Serif", serif' fill="#000">[</text><text class="c" x="58.35" y="0" font-size="35.4" textLength="29.02" lengthAdjust="spacingAndGlyphs" font-family='"Liberation Serif", serif' fill="#000">m</text><text class="c" x="88.27" y="-14.5" font-size="24.8" textLength="17.22" lengthAdjust="spacingAndGlyphs" font-family='"Liberation Serif", serif' fill="#000">−</text><text class="c" x="106.68" y="-12.5" font-size="24.8" textLength="11.27" lengthAdjust="spacingAndGlyphs" font-family='"Liberation Serif", serif' fill="#000">1</text><text class="c" x="120.81" y="2.3" font-size="41.7" textLength="7.55" lengthAdjust="spacingAndGlyphs" font-family='"Liberation Serif", serif' fill="#000">]</text></g>
<g transform="translate(30.1 751.7) rotate(-90)"><text class="w" x="0.59" y="0" font-size="35.4" textLength="19.43" lengthAdjust="spacingAndGlyphs" font-family='"Liberation Serif", serif' font-style="italic" fill="#000">β</text><text class="s" x="20.54" y="4.6" font-size="24.5" textLength="16.71" lengthAdjust="spacingAndGlyphs" font-family='"Liberation Serif", serif' font-style="italic" fill="#000">F</text><text class="c" x="53.96" y="2.3" font-size="41.7" textLength="7.72" lengthAdjust="spacingAndGlyphs" font-family='"Liberation Serif", serif' fill="#000">[</text><text class="c" x="62.38" y="0" font-size="35.4" textLength="27.88" lengthAdjust="spacingAndGlyphs" font-family='"Liberation Serif", serif' fill="#000">m</text><text class="c" x="91.01" y="-14.5" font-size="24.8" textLength="17.95" lengthAdjust="spacingAndGlyphs" font-family='"Liberation Serif", serif' fill="#000">−</text><text class="c" x="109.46" y="-12.5" font-size="24.8" textLength="11.41" lengthAdjust="spacingAndGlyphs" font-family='"Liberation Serif", serif' fill="#000">1</text><text class="c" x="123.61" y="2.3" font-size="41.7" textLength="7.55" lengthAdjust="spacingAndGlyphs" font-family='"Liberation Serif", serif' fill="#000">]</text></g>
<g transform="translate(46 1220.7) rotate(-90)"><text class="w" x="0.59" y="0" font-size="35.4" textLength="19.43" lengthAdjust="spacingAndGlyphs" font-family='"Liberation Serif", serif' font-style="italic" fill="#000">β</text><text class="s" x="20.04" y="4.6" font-size="24.5" textLength="17.2" lengthAdjust="spacingAndGlyphs" font-family='"Liberation Serif", serif' font-style="italic" fill="#000">F</text><text class="c" x="42.1" y="0" font-size="35.4" textLength="13.74" lengthAdjust="spacingAndGlyphs" font-family='"Liberation Serif", serif' fill="#000">/</text><text class="w" x="58.59" y="0" font-size="35.4" textLength="19.43" lengthAdjust="spacingAndGlyphs" font-family='"Liberation Serif", serif' font-style="italic" fill="#000">β</text><text class="s" x="78.09" y="4.6" font-size="24.5" textLength="15.58" lengthAdjust="spacingAndGlyphs" font-family='"Liberation Serif", serif' font-style="italic" fill="#000">S</text></g>
</svg>
</body></html>
